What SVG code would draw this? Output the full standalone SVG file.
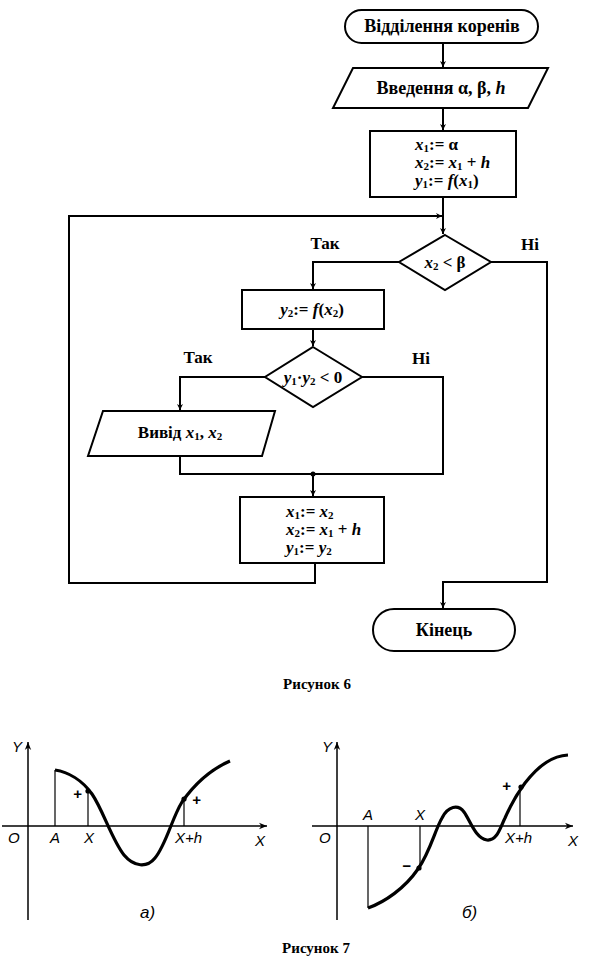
<svg xmlns="http://www.w3.org/2000/svg" width="589" height="974" viewBox="0 0 589 974">
<style>
.sh{fill:#fff;stroke:#000;stroke-width:2}
.ln{fill:none;stroke:#000;stroke-width:2}
.t{font-family:"Liberation Serif","Times New Roman",serif;font-weight:bold;font-size:17px;fill:#000}
.b{font-size:18px}
.c{font-size:15px}
.i{font-style:italic}
.s{font-size:11px}
.g{font-family:"Liberation Sans",sans-serif;font-style:italic;font-size:15px;fill:#000}
.ax{fill:none;stroke:#000;stroke-width:1.5}
.cv{fill:none;stroke:#000;stroke-width:3.2}
.th{fill:none;stroke:#000;stroke-width:1.2}
</style>
<defs>
<marker id="ar" viewBox="0 0 10 10" refX="10" refY="5" markerWidth="6" markerHeight="8" orient="auto" markerUnits="userSpaceOnUse"><path d="M0,0 L10,5 L0,10 L3,5 z" fill="#000"/></marker>
<marker id="ax" viewBox="0 0 10 10" refX="10" refY="5" markerWidth="12" markerHeight="8" orient="auto" markerUnits="userSpaceOnUse"><path d="M0,1 L10,5 L0,9 L3,5 z" fill="#000"/></marker>
</defs>
<g id="connectors">
<path class="ln" d="M443,43 V67" marker-end="url(#ar)"/>
<path class="ln" d="M443,108 V130" marker-end="url(#ar)"/>
<path class="ln" d="M443,197 V234" marker-end="url(#ar)"/>
<path class="ln" d="M399,262 H313 V289" marker-end="url(#ar)"/>
<path class="ln" d="M313,329 V346" marker-end="url(#ar)"/>
<path class="ln" d="M265,377 H180 V410" marker-end="url(#ar)"/>
<path class="ln" d="M180,456 V474 H443 V377 H362"/>
<path class="ln" d="M313,474 V496" marker-end="url(#ar)"/>
<circle cx="313" cy="474" r="2.5" fill="#000"/>
<path class="ln" d="M315,563 V583 H69 V216 H442" marker-end="url(#ar)"/>
<path class="ln" d="M491,262 H547 V582 H443 V608" marker-end="url(#ar)"/>
<text class="t" x="325" y="249" text-anchor="middle">Так</text>
<text class="t" x="530" y="250" text-anchor="middle">Ні</text>
<text class="t" x="198" y="363" text-anchor="middle">Так</text>
<text class="t" x="421" y="364" text-anchor="middle">Ні</text>
</g>
<g id="start">
<rect class="sh" x="345" y="10" width="193" height="33" rx="16.5"/>
<text class="t b" x="442" y="32" text-anchor="middle">Відділення коренів</text>
</g>
<g id="input">
<polygon class="sh" points="353,68 548,68 528,108 333,108"/>
<text class="t b" x="441" y="94" text-anchor="middle">Введення α, β, <tspan class="i">h</tspan></text>
</g>
<g id="init">
<rect class="sh" x="370" y="131" width="146" height="66"/>
<text class="t" x="415" y="150"><tspan class="i">x</tspan><tspan class="s" dy="2">1</tspan><tspan dy="-2">:= α</tspan></text>
<text class="t" x="415" y="168"><tspan class="i">x</tspan><tspan class="s" dy="2">2</tspan><tspan dy="-2">:= </tspan><tspan class="i">x</tspan><tspan class="s" dy="2">1</tspan><tspan dy="-2"> + </tspan><tspan class="i">h</tspan></text>
<text class="t" x="415" y="186"><tspan class="i">y</tspan><tspan class="s" dy="2">1</tspan><tspan dy="-2">:= </tspan><tspan class="i">f</tspan>(<tspan class="i">x</tspan><tspan class="s" dy="2">1</tspan><tspan dy="-2">)</tspan></text>
</g>
<g id="cond1">
<polygon class="sh" points="445,235 491,262 445,290 399,262"/>
<text class="t" x="445" y="268" text-anchor="middle"><tspan class="i">x</tspan><tspan class="s" dy="2">2</tspan><tspan dy="-2"> &lt; β</tspan></text>
</g>
<g id="calc">
<rect class="sh" x="242" y="290" width="142" height="39"/>
<text class="t" x="312" y="315" text-anchor="middle"><tspan class="i">y</tspan><tspan class="s" dy="2">2</tspan><tspan dy="-2">:= </tspan><tspan class="i">f</tspan>(<tspan class="i">x</tspan><tspan class="s" dy="2">2</tspan><tspan dy="-2">)</tspan></text>
</g>
<g id="cond2">
<polygon class="sh" points="313,347 362,377 313,407 265,377"/>
<text class="t" x="313" y="383" text-anchor="middle"><tspan class="i">y</tspan><tspan class="s" dy="2">1</tspan><tspan dy="-2">·</tspan><tspan class="i">y</tspan><tspan class="s" dy="2">2</tspan><tspan dy="-2"> &lt; 0</tspan></text>
</g>
<g id="output">
<polygon class="sh" points="103,411 275,411 262,456 88,456"/>
<text class="t" x="180" y="438" text-anchor="middle">Вивід <tspan class="i">x</tspan><tspan class="s" dy="2">1</tspan><tspan dy="-2">, </tspan><tspan class="i">x</tspan><tspan class="s" dy="2">2</tspan></text>
</g>
<g id="update">
<rect class="sh" x="240" y="497" width="144" height="66"/>
<text class="t" x="286" y="517"><tspan class="i">x</tspan><tspan class="s" dy="2">1</tspan><tspan dy="-2">:= </tspan><tspan class="i">x</tspan><tspan class="s" dy="2">2</tspan></text>
<text class="t" x="286" y="535"><tspan class="i">x</tspan><tspan class="s" dy="2">2</tspan><tspan dy="-2">:= </tspan><tspan class="i">x</tspan><tspan class="s" dy="2">1</tspan><tspan dy="-2"> + </tspan><tspan class="i">h</tspan></text>
<text class="t" x="286" y="553"><tspan class="i">y</tspan><tspan class="s" dy="2">1</tspan><tspan dy="-2">:= </tspan><tspan class="i">y</tspan><tspan class="s" dy="2">2</tspan></text>
</g>
<g id="end">
<rect class="sh" x="373" y="609" width="142" height="42" rx="21"/>
<text class="t b" x="444" y="636" text-anchor="middle">Кінець</text>
</g>
<text class="t c" x="317" y="689" text-anchor="middle">Рисунок 6</text>
<g id="graph-a">
<path class="ax" d="M28,920 V742" marker-end="url(#ax)"/>
<path class="ax" d="M2,826 H267" marker-end="url(#ax)"/>
<path class="th" d="M55,826 V770"/>
<path class="th" d="M88,826 V791"/>
<path class="th" d="M184,826 V798"/>
<path class="cv" d="M55,770 C68,772 82,780 92,794 C103,810 112,840 124,855 C134,867 147,868 155,858 C166,845 172,818 182,802 C196,782 214,768 230,761"/>
<circle cx="88" cy="791" r="2.6" fill="#000"/>
<circle cx="184" cy="799" r="2.6" fill="#000"/>
<text class="g" x="12" y="752">Y</text>
<text class="g" x="8" y="843">O</text>
<text class="g" x="50" y="843">A</text>
<text class="g" x="84" y="843">X</text>
<text class="g" x="175" y="843">X+h</text>
<text class="g" x="255" y="846">X</text>
<text class="g" x="73" y="799" font-style="normal" font-weight="bold">+</text>
<text class="g" x="192" y="805" font-style="normal" font-weight="bold">+</text>
<text class="g" x="140" y="918" style="font-size:17px">a)</text>
</g>
<g id="graph-b">
<path class="ax" d="M337,920 V742" marker-end="url(#ax)"/>
<path class="ax" d="M312,826 H573" marker-end="url(#ax)"/>
<path class="th" d="M368,826 V908"/>
<path class="th" d="M420,826 V867"/>
<path class="th" d="M520,826 V787"/>
<path class="cv" d="M368,908 C385,902 405,888 418,869 C430,852 435,830 442,818 C448,806 458,804 464,812 C470,820 475,838 487,840 C497,841 500,828 505,818 C511,804 517,794 525,783 C540,764 553,756 568,755"/>
<circle cx="419" cy="868" r="2.6" fill="#000"/>
<circle cx="521" cy="787" r="2.6" fill="#000"/>
<text class="g" x="322" y="752">Y</text>
<text class="g" x="319" y="843">O</text>
<text class="g" x="363" y="820">A</text>
<text class="g" x="415" y="820">X</text>
<text class="g" x="505" y="843">X+h</text>
<text class="g" x="568" y="846">X</text>
<text class="g" x="402" y="871" font-style="normal" font-weight="bold">−</text>
<text class="g" x="502" y="791" font-style="normal" font-weight="bold">+</text>
<text class="g" x="462" y="918" style="font-size:17px">б)</text>
</g>
<text class="t c" x="316" y="953" text-anchor="middle">Рисунок 7</text>
</svg>
